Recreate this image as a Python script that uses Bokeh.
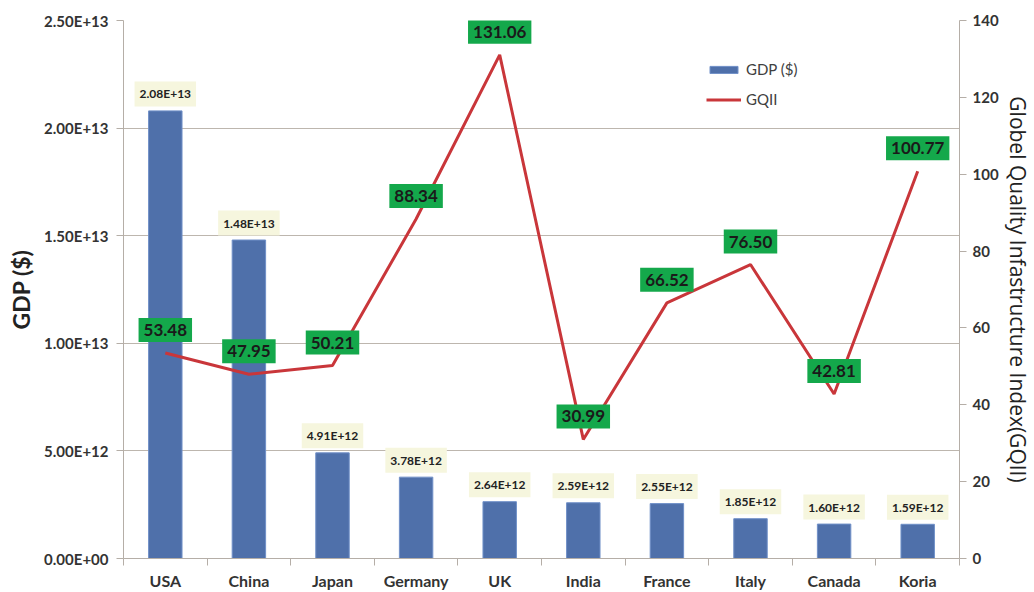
from bokeh.plotting import figure
from bokeh.models import (Range1d, LinearAxis, FixedTicker, ColumnDataSource,
                          Legend, LegendItem)
from bokeh.core.properties import value
from bokeh.embed import file_html
from bokeh.resources import INLINE

countries = ["USA", "China", "Japan", "Germany", "UK", "India", "France", "Italy", "Canada", "Koria"]
gdp = [2.08e13, 1.48e13, 4.91e12, 3.78e12, 2.64e12, 2.59e12, 2.55e12, 1.85e12, 1.60e12, 1.59e12]
gdp_labels = ["2.08E+13", "1.48E+13", "4.91E+12", "3.78E+12", "2.64E+12",
              "2.59E+12", "2.55E+12", "1.85E+12", "1.60E+12", "1.59E+12"]
gqii = [53.48, 47.95, 50.21, 88.34, 131.06, 30.99, 66.52, 76.50, 42.81, 100.77]
gqii_labels = ["53.48", "47.95", "50.21", "88.34", "131.06", "30.99", "66.52", "76.50", "42.81", "100.77"]
gdp_ticks = [0, 5e12, 1e13, 1.5e13, 2e13, 2.5e13]
gdp_tick_labels = ["0.00E+00", "5.00E+12", "1.00E+13", "1.50E+13", "2.00E+13", "2.50E+13"]
gqii_ticks = [0, 20, 40, 60, 80, 100, 120, 140]

FONT = "Lato"
AXIS_C = "#b5aea7"
GRID_C = "#bdb6ae"

xs = [i + 0.5 for i in range(len(countries))]
src = ColumnDataSource(dict(x=xs, gdp=gdp, gdp_label=gdp_labels, gqii=gqii, gqii_label=gqii_labels))

p = figure(width=1034, height=592, x_range=Range1d(0, len(countries)),
           y_range=Range1d(gdp_ticks[0], gdp_ticks[-1]),
           output_backend="svg", toolbar_location=None,
           min_border_left=123, min_border_right=72, min_border_top=20, min_border_bottom=31)
p.outline_line_color = None
p.background_fill_color = "white"
p.border_fill_color = "white"
p.extra_y_ranges = {"gqii": Range1d(gqii_ticks[0], gqii_ticks[-1])}

bars = p.vbar(x="x", top="gdp", width=0.4, source=src, fill_color="#4f70aa",
              line_color="#7090c8", line_width=1)
line = p.line(x="x", y="gqii", source=src, y_range_name="gqii", line_color="#c9363a", line_width=3)

# GDP value labels
p.text(x="x", y="gdp", text="gdp_label", source=src, y_offset=-17,
       text_align="center", text_baseline="middle", text_font=value(FONT),
       text_font_size="12px", text_font_style="bold", text_color="#222222",
       background_fill_color="#f6f6de", padding=dict(left=5, right=5, top=5, bottom=5))
# GQII value labels
p.text(x="x", y="gqii", text="gqii_label", source=src, y_range_name="gqii", y_offset=-23,
       text_align="center", text_baseline="middle", text_font=value(FONT),
       text_font_size="17px", text_font_style="bold", text_color="#1a1a1a",
       background_fill_color="#14a84b", padding=dict(left=5, right=5, top=6, bottom=6))

# X axis
p.xaxis.ticker = FixedTicker(ticks=xs, minor_ticks=list(range(len(countries) + 1)))
p.xaxis.major_label_overrides = {x: c for x, c in zip(xs, countries)}
p.xaxis.major_tick_line_color = None
p.xaxis.minor_tick_line_color = AXIS_C
p.xaxis.minor_tick_out = 7
p.xaxis.minor_tick_in = 0
p.xaxis.axis_line_color = AXIS_C
p.xaxis.major_label_text_font = FONT
p.xaxis.major_label_text_font_size = "16px"
p.xaxis.major_label_text_font_style = "bold"
p.xaxis.major_label_text_color = "#333333"
p.xaxis.major_label_standoff = 5

# Left axis
p.yaxis.ticker = FixedTicker(ticks=gdp_ticks)
p.yaxis.major_label_overrides = {t: l for t, l in zip(gdp_ticks, gdp_tick_labels)}
p.yaxis.minor_tick_line_color = None
p.yaxis.major_tick_out = 7
p.yaxis.major_tick_in = 0
p.yaxis.major_tick_line_color = AXIS_C
p.yaxis.axis_line_color = AXIS_C
p.yaxis.major_label_text_font = FONT
p.yaxis.major_label_text_font_size = "15px"
p.yaxis.major_label_text_font_style = "bold"
p.yaxis.major_label_text_color = "#333333"
p.yaxis.major_label_standoff = 8
p.yaxis.axis_label = "GDP ($)"
p.yaxis.axis_label_text_font = FONT
p.yaxis.axis_label_text_font_size = "23px"
p.yaxis.axis_label_text_font_style = "bold"
p.yaxis.axis_label_text_color = "#222222"
p.yaxis.axis_label_standoff = 6

# Right axis
ra = LinearAxis(y_range_name="gqii", ticker=FixedTicker(ticks=gqii_ticks))
ra.minor_tick_line_color = None
ra.major_tick_out = 7
ra.major_tick_in = 0
ra.major_tick_line_color = AXIS_C
ra.axis_line_color = AXIS_C
ra.major_label_text_font = FONT
ra.major_label_text_font_size = "15px"
ra.major_label_text_font_style = "bold"
ra.major_label_text_color = "#333333"
ra.major_label_standoff = 6
ra.axis_label = "Globel Quality Infastructure Index(GQII)"
ra.axis_label_text_font = "Open Sans"
ra.axis_label_text_font_size = "21px"
ra.axis_label_text_font_style = "normal"
ra.axis_label_text_color = "#222222"
ra.axis_label_standoff = 2
p.add_layout(ra, "right")

p.xgrid.visible = False
p.ygrid.ticker = FixedTicker(ticks=gdp_ticks)
p.ygrid.grid_line_color = GRID_C
p.ygrid.grid_line_width = 1

legend = Legend(items=[LegendItem(label="GDP ($)", renderers=[bars]),
                       LegendItem(label="GQII", renderers=[line])],
                location=(583, 449), border_line_color=None, background_fill_alpha=0,
                glyph_width=35, glyph_height=9, label_height=20, spacing=10,
                label_text_font=FONT, label_text_font_size="15px", label_text_color="#404040",
                padding=0, margin=0)
p.add_layout(legend)

open("out.html", "w").write(file_html(p, INLINE))
